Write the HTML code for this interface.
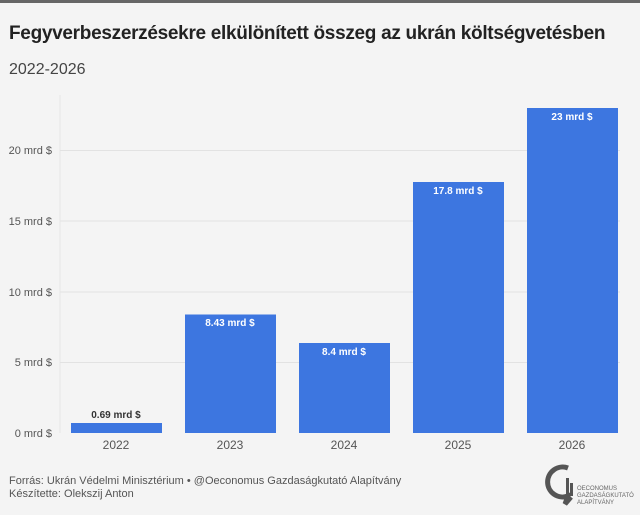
<!DOCTYPE html>
<html><head><meta charset="utf-8"><style>
body{margin:0;width:640px;height:515px;background:#f4f4f4;font-family:"Liberation Sans",sans-serif;position:relative;overflow:hidden}
.t{position:absolute;white-space:nowrap}
</style></head><body>
<div style="position:absolute;left:0;top:0;width:640px;height:3px;background:#666"></div>
<div class="t" style="left:9px;top:23px;font-size:19px;font-weight:bold;color:#222;letter-spacing:-0.3px">Fegyverbeszerzésekre elkülönített összeg az ukrán költségvetésben</div>
<div class="t" style="left:9px;top:61px;font-size:16px;color:#444">2022-2026</div>
<svg width="640" height="515" style="position:absolute;left:0;top:0" font-family="Liberation Sans, sans-serif">
<line x1="60" y1="95" x2="60" y2="433" stroke="#e6e6e6"/>
<g stroke="#e2e2e2">
<line x1="60" x2="620" y1="150.5" y2="150.5"/><line x1="60" x2="620" y1="292" y2="292"/>
<line x1="60" x2="620" y1="221" y2="221"/><line x1="60" x2="620" y1="362.5" y2="362.5"/>
</g>
<g font-size="11" fill="#555" text-anchor="end">
<text x="52" y="154">20 mrd $</text><text x="52" y="225">15 mrd $</text>
<text x="52" y="296">10 mrd $</text><text x="52" y="366">5 mrd $</text><text x="52" y="437">0 mrd $</text>
</g>
<g fill="#3d76e0">
<rect x="71" y="423" width="91" height="10"/>
<rect x="185" y="314.5" width="91" height="118.5"/>
<rect x="299" y="343" width="91" height="90"/>
<rect x="413" y="182" width="91" height="251"/>
<rect x="527" y="108" width="91" height="325"/>
</g>
<g font-size="10" font-weight="bold" text-anchor="middle" fill="#fff">
<text x="116" y="418" fill="#333">0.69 mrd $</text>
<text x="230" y="326">8.43 mrd $</text>
<text x="344" y="355">8.4 mrd $</text>
<text x="458" y="194">17.8 mrd $</text>
<text x="572" y="120">23 mrd $</text>
</g>
<g font-size="12" fill="#555" text-anchor="middle">
<text x="116" y="449">2022</text><text x="230" y="449">2023</text><text x="344" y="449">2024</text><text x="458" y="449">2025</text><text x="572" y="449">2026</text>
</g>
<text x="9" y="484" font-size="11" fill="#555">Forrás: Ukrán Védelmi Minisztérium • @Oeconomus Gazdaságkutató Alapítvány</text>
<text x="9" y="497" font-size="11" fill="#555">Készítette: Olekszij Anton</text>
<path d="M568 468 a15 15 0 1 0 0 28 l-3 8 l6-7" fill="none" stroke="#555" stroke-width="5"/>
<rect x="566" y="478" width="3" height="18" fill="#555"/><rect x="570" y="483" width="3" height="13" fill="#555"/>
<g font-size="6" fill="#666"><text x="577" y="490">OECONOMUS</text><text x="577" y="497">GAZDASÁGKUTATÓ</text><text x="577" y="504">ALAPÍTVÁNY</text></g>
</svg>
</body></html>
